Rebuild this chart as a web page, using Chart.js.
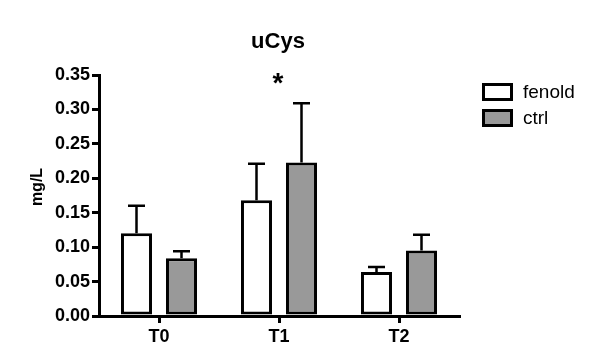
<!DOCTYPE html>
<html>
<head>
<meta charset="utf-8">
<script src="https://cdn.jsdelivr.net/npm/chart.js@4/dist/chart.umd.min.js"></script>
<style>
  html, body { margin: 0; padding: 0; background: #fff; }
  #wrap { width: 600px; height: 364px; }
</style>
</head>
<body>
<div id="wrap"><canvas id="c"></canvas></div>
<script>
// values
const categories = ["T0", "T1", "T2"];
const fenold = [0.120, 0.168, 0.064];
const fenoldErr = [0.160, 0.221, 0.071];
const ctrl = [0.084, 0.223, 0.095];
const ctrlErr = [0.094, 0.309, 0.118];
const yTicks = [0, 0.05, 0.10, 0.15, 0.20, 0.25, 0.30, 0.35];
const marks = ["", "*", ""];   // significance marks per category

const FONT = "'Liberation Sans', Arial, Helvetica, sans-serif";

// upper error bars
const errorBars = {
  id: "errorBars",
  afterDatasetsDraw(chart) {
    const ctx = chart.ctx;
    const y = chart.scales.y;
    chart.data.datasets.forEach((ds, i) => {
      const meta = chart.getDatasetMeta(i);
      meta.data.forEach((bar, j) => {
        const top = y.getPixelForValue(ds.errTop[j]);
        ctx.save();
        ctx.strokeStyle = "#000";
        ctx.lineWidth = 2.5;
        ctx.beginPath();
        ctx.moveTo(bar.x, bar.y);
        ctx.lineTo(bar.x, top);
        ctx.moveTo(bar.x - 8.5, top);
        ctx.lineTo(bar.x + 8.5, top);
        ctx.stroke();
        ctx.restore();
      });
    });
  }
};

// title, y title, significance marks and legend
const extras = {
  id: "extras",
  afterDraw(chart) {
    const ctx = chart.ctx;
    const a = chart.chartArea;
    const x = chart.scales.x;
    ctx.save();
    ctx.fillStyle = "#000";
    ctx.textAlign = "center";
    ctx.textBaseline = "middle";
    ctx.font = "bold 22px " + FONT;
    ctx.fillText("uCys", 278, 42);
    ctx.font = "bold 28px " + FONT;
    marks.forEach((m, i) => {
      if (m) ctx.fillText(m, x.getPixelForValue(i) - 1, 84);
    });
    ctx.save();
    ctx.translate(38, 187);
    ctx.rotate(-Math.PI / 2);
    ctx.font = "bold 16px " + FONT;
    ctx.fillText("mg/L", 0, 0);
    ctx.restore();
    ctx.textAlign = "left";
    ctx.font = "19px " + FONT;
    chart.data.datasets.forEach((ds, i) => {
      const ly = 84.5 + i * 26;
      ctx.fillStyle = ds.backgroundColor;
      ctx.fillRect(483.5, ly, 28, 15);
      ctx.strokeStyle = "#000";
      ctx.lineWidth = 3;
      ctx.strokeRect(483.5, ly, 28, 15);
      ctx.fillStyle = "#000";
      ctx.fillText(ds.label, 523, ly + 8);
    });
    ctx.restore();
  }
};

new Chart(document.getElementById("c"), {
  type: "bar",
  data: {
    labels: categories,
    datasets: [
      {
        label: "fenold",
        data: fenold,
        errTop: fenoldErr,
        backgroundColor: "#ffffff",
        borderColor: "#000",
        borderWidth: 3,
        borderSkipped: false,
        categoryPercentage: 0.75,
        barPercentage: 0.69
      },
      {
        label: "ctrl",
        data: ctrl,
        errTop: ctrlErr,
        backgroundColor: "#999999",
        borderColor: "#000",
        borderWidth: 3,
        borderSkipped: false,
        categoryPercentage: 0.75,
        barPercentage: 0.69
      }
    ]
  },
  options: {
    responsive: true,
    maintainAspectRatio: false,
    animation: false,
    layout: { padding: { top: 75, right: 141, left: 0, bottom: 0 } },
    plugins: {
      legend: { display: false },
      title: { display: false },
      tooltip: { enabled: false }
    },
    scales: {
      x: {
        grid: { display: true, drawOnChartArea: false, offset: false, tickLength: 7, lineWidth: 3, color: "#000" },
        border: { display: true, color: "#000", width: 3 },
        ticks: { color: "#000", font: { family: FONT, size: 18, weight: "bold" }, padding: 3 },
        afterFit(s) { s.height = 48; }
      },
      y: {
        min: 0,
        max: 0.35,
        afterBuildTicks(s) { s.ticks = yTicks.map(v => ({ value: v })); },
        grid: { display: true, drawOnChartArea: false, tickLength: 7, lineWidth: 3, color: "#000" },
        border: { display: true, color: "#000", width: 3 },
        ticks: {
          color: "#000",
          font: { family: FONT, size: 18, weight: "bold" },
          padding: 2,
          callback: v => v.toFixed(2)
        },
        afterFit(s) { s.width = 99; }
      }
    }
  },
  plugins: [errorBars, extras]
});
</script>
</body>
</html>
